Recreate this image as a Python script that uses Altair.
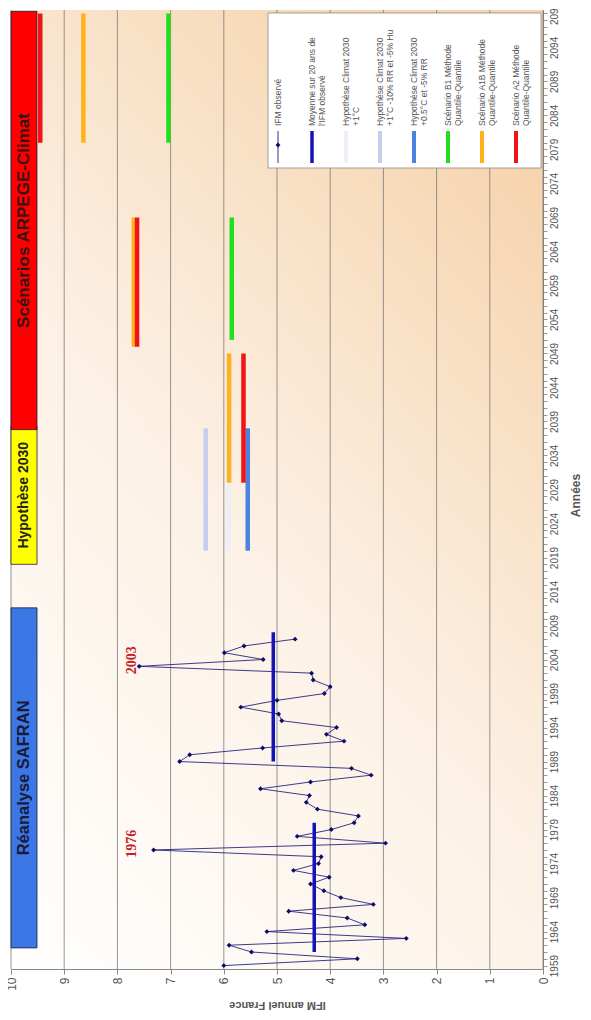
import altair as alt
import pandas as pd

# ---------------- data ----------------
obs_years = list(range(1959, 2008))
obs_ifm = [6.00, 3.49, 5.48, 5.90, 2.57, 5.19, 3.35, 3.68, 4.78, 3.19,
           3.80, 4.12, 4.37, 4.02, 4.69, 4.22, 4.17, 7.32, 2.96, 4.62,
           3.98, 3.55, 3.47, 4.24, 4.45, 4.39, 5.31, 4.37, 3.23, 3.60,
           6.83, 6.64, 5.27, 3.74, 4.07, 3.88, 4.91, 4.97, 5.68, 5.00,
           4.11, 4.00, 4.32, 4.35, 7.59, 5.26, 5.99, 5.62, 4.66]

mean_ifm = [4.30, 5.07]
mean_start = [1961, 1989]
mean_end = [1980, 2008]

S_OBS = "IFM observé"
S_MEAN = "Moyenne sur 20 ans de l'IFM observé"
S_H1 = "Hypothèse Climat 2030 +1°C"
S_H2 = "Hypothèse Climat 2030 +1°C -10% RR et -5% Hu"
S_H3 = "Hypothèse Climat 2030 +0.5°C et -5% RR"
S_B1 = "Scénario B1 Méthode Quantile-Quantile"
S_A1B = "Scénario A1B Méthode Quantile-Quantile"
S_A2 = "Scénario A2 Méthode Quantile-Quantile"

seg_series = [S_H2, S_H1, S_H3, S_A1B, S_A2, S_B1, S_A1B, S_A2, S_B1, S_A1B, S_A2]
seg_ifm = [6.34, 5.92, 5.55, 5.90, 5.63, 5.85, 7.69, 7.63, 7.04, 8.64, 9.45]
seg_start = [2020, 2020, 2020, 2030, 2030, 2051, 2050, 2050, 2080, 2080, 2080]
seg_end = [2038, 2038, 2038, 2049, 2049, 2069, 2069, 2069, 2099, 2099, 2099]

period_labels = ["Réanalyse SAFRAN", "Hypothèse 2030", "Scénarios ARPEGE-Climat"]
period_start = [1961.6, 2018.0, 2037.8]
period_end = [2011.6, 2038.3, 2099.3]

annot_labels = ["1976", "2003"]
annot_years = [1976, 2003]

leg_series = [S_OBS, S_MEAN, S_H1, S_H2, S_H3, S_B1, S_A1B, S_A2]
leg_line1 = ["IFM observé", "Moyenne sur 20 ans de", "Hypothèse Climat 2030",
             "Hypothèse Climat 2030", "Hypothèse Climat 2030",
             "Scénario B1 Méthode", "Scénario A1B  Méthode", "Scénario A2  Méthode"]
leg_line2 = ["", "l'IFM observé", "+1°C", "+1°C -10% RR et -5% Hu",
             "+0.5°C et -5% RR", "Quantile-Quantile", "Quantile-Quantile",
             "Quantile-Quantile"]

x_ticks = list(range(0, 11))
y_ticks = list(range(1959, 2100))

# ---------------- layout / style ----------------
W, H = 532, 959
X_DOM = [0, 10]
Y_DOM = [1958.5, 2099.5]
FONT = "Liberation Sans"


def px_to_ifm(px):
    return X_DOM[1] - px * (X_DOM[1] - X_DOM[0]) / W


def py_to_year(py):
    return Y_DOM[1] - py * (Y_DOM[1] - Y_DOM[0]) / H


xs = alt.Scale(domain=X_DOM, reverse=True, nice=False, zero=False)
ys = alt.Scale(domain=Y_DOM, nice=False, zero=False)

x_axis = alt.Axis(values=x_ticks, grid=False, tickSize=5, tickColor="#888",
                  domainColor="#888", labelAngle=270, labelAlign="right",
                  labelBaseline="middle", labelFontSize=12, labelColor="#555",
                  labelPadding=3, labelFlush=False, labelFont=FONT, format="d",
                  title="IFM annuel France", titleAngle=180, titleBaseline="bottom",
                  titleFontSize=11, titleFontWeight="bold", titleColor="#555",
                  titleFont=FONT, titlePadding=9)
y_axis = alt.Axis(orient="right", values=y_ticks,
                  labelExpr="(datum.value - 1959) % 5 == 0 ? '' + datum.value : ''",
                  grid=False, tickSize=4, tickColor="#999", domainColor="#888",
                  labelAngle=270, labelAlign="center", labelBaseline="top",
                  labelFontSize=10, labelColor="#555", labelPadding=2,
                  labelOverlap=False, labelFlush=False, labelFont=FONT,
                  title="Années", titleAngle=270, titleBaseline="top",
                  titleFontSize=12, titleFontWeight="bold", titleColor="#555",
                  titleFont=FONT, titlePadding=11, titleY=485)


def X(f):
    return alt.X(f, type="quantitative", scale=xs, axis=x_axis)


def Y(f):
    return alt.Y(f, type="quantitative", scale=ys, axis=y_axis)


series_dom = [S_OBS, S_MEAN, S_H1, S_H2, S_H3, S_B1, S_A1B, S_A2]
series_rng = ["#1c1c78", "#1414b4", "#eceef8", "#c6cef0", "#4a84e0",
              "#1ee01e", "#ffb21e", "#f01418"]
stroke_scale = alt.Scale(domain=series_dom, range=series_rng)

one = pd.DataFrame({"k": [0]})

# background gradient
bg = alt.Chart(one).mark_rect(
    fill=alt.Gradient(gradient="linear",
                      stops=[alt.GradientStop(color="#fffefd", offset=0),
                             alt.GradientStop(color="#fcf0e3", offset=0.5),
                             alt.GradientStop(color="#f6d4ae", offset=1)],
                      x1=0.1, y1=1, x2=0.7, y2=0)
).encode(x=alt.value(0), x2=alt.value(W), y=alt.value(0), y2=alt.value(H))

grid = alt.Chart(pd.DataFrame({"g": x_ticks})).mark_rule(
    color="#7a7a7a", strokeWidth=0.8
).encode(x=X("g"), y=alt.value(0), y2=alt.value(H))

# period boxes
per_df = pd.DataFrame({"label": period_labels, "s": period_start, "e": period_end})
boxes = alt.Chart(per_df).mark_rect(stroke="#1e1e3c", strokeWidth=0.8).encode(
    x=alt.value(0), x2=alt.value(26), y=Y("s"), y2="e",
    fill=alt.Fill("label:N", scale=alt.Scale(domain=period_labels,
                                             range=["#3b78e6", "#ffff00", "#ff0000"]),
                  legend=None))
box_text_style = {period_labels[0]: (16.5, "bold", "#1a1a3a"),
                  period_labels[1]: (14, "bold", "#222222"),
                  period_labels[2]: (17, "bold", "#3a1212")}
box_texts = []
for lab in period_labels:
    fs, fw, col = box_text_style[lab]
    box_texts.append(
        alt.Chart(per_df).transform_filter(alt.datum.label == lab)
        .transform_calculate(m="(datum.s + datum.e) / 2")
        .mark_text(angle=270, align="center", baseline="middle", fontSize=fs,
                   fontWeight=fw, color=col, font=FONT)
        .encode(x=alt.value(13), y=Y("m"), text="label:N"))

# scenario segments
seg_df = pd.DataFrame({"series": seg_series, "ifm": seg_ifm, "s": seg_start, "e": seg_end})
segs = alt.Chart(seg_df).mark_rule(strokeWidth=4.5, strokeCap="butt").encode(
    x=X("ifm"), y=Y("s"), y2="e",
    stroke=alt.Stroke("series:N", scale=stroke_scale, legend=None))

# observed
obs_df = pd.DataFrame({"year": obs_years, "ifm": obs_ifm})
obs_line = alt.Chart(obs_df).mark_line(color="#26267e", strokeWidth=0.9).encode(
    x=X("ifm"), y=Y("year"), order="year:Q")
obs_pts = alt.Chart(obs_df).mark_point(shape="diamond", filled=True, size=24,
                                       color="#0b0b6e", opacity=1).encode(
    x=X("ifm"), y=Y("year"))

mean_df = pd.DataFrame({"ifm": mean_ifm, "s": mean_start, "e": mean_end})
means = alt.Chart(mean_df).mark_rule(strokeWidth=3.5, color="#1414b4",
                                     strokeCap="butt").encode(
    x=X("ifm"), y=Y("s"), y2="e")

ann_df = pd.DataFrame({"t": annot_labels, "year": annot_years})
ann = alt.Chart(ann_df).transform_calculate(
    ty="datum.year + 0.9", tx="7.72"
).mark_text(angle=270, align="center", baseline="middle", fontSize=14,
            fontWeight="bold", font="Liberation Serif", color="#c8202a").encode(
    x=X("tx"), y=Y("ty"), text="t:N")

# legend (manual, rotated)
leg_df = pd.DataFrame({"series": leg_series, "l1": leg_line1, "l2": leg_line2,
                       "i": list(range(len(leg_series)))})
leg_df["lx"] = [px_to_ifm(267 + 34 * i) for i in leg_df["i"]]
leg_df["lx2"] = [px_to_ifm(277 + 34 * i) for i in leg_df["i"]]
leg_df["sy1"] = py_to_year(153)
leg_df["sy2"] = py_to_year(121)
leg_df["dy"] = py_to_year(135)
leg_df["ty"] = py_to_year(116)

leg_box = alt.Chart(one).mark_rect(fill="white", stroke="#8a8a8a", strokeWidth=0.8).encode(
    x=alt.value(257), x2=alt.value(530), y=alt.value(3), y2=alt.value(158))
leg_rule0 = alt.Chart(leg_df[leg_df.i == 0]).mark_rule(strokeWidth=0.9).encode(
    x=X("lx"), y=Y("sy1"), y2="sy2",
    stroke=alt.Stroke("series:N", scale=stroke_scale, legend=None))
leg_pt0 = alt.Chart(leg_df[leg_df.i == 0]).mark_point(shape="diamond", filled=True,
                                                      size=24, color="#0b0b6e",
                                                      opacity=1).encode(
    x=X("lx"), y=Y("dy"))
leg_rule1 = alt.Chart(leg_df[leg_df.i == 1]).mark_rule(strokeWidth=3.5).encode(
    x=X("lx"), y=Y("sy1"), y2="sy2",
    stroke=alt.Stroke("series:N", scale=stroke_scale, legend=None))
leg_rules = alt.Chart(leg_df[leg_df.i >= 2]).mark_rule(strokeWidth=4).encode(
    x=X("lx"), y=Y("sy1"), y2="sy2",
    stroke=alt.Stroke("series:N", scale=stroke_scale, legend=None))
leg_t1 = alt.Chart(leg_df).mark_text(angle=270, align="left", baseline="middle",
                                     fontSize=8.5, color="#555", font=FONT).encode(
    x=X("lx"), y=Y("ty"), text="l1:N")
leg_t2 = alt.Chart(leg_df).mark_text(angle=270, align="left", baseline="middle",
                                     fontSize=8.5, color="#555", font=FONT).encode(
    x=X("lx2"), y=Y("ty"), text="l2:N")

chart = alt.layer(
    bg, grid, segs, obs_line, means, obs_pts, ann, boxes, *box_texts,
    leg_box, leg_rule0, leg_pt0, leg_rule1, leg_rules, leg_t1, leg_t2
).properties(
    width=W, height=H,
    autosize=alt.AutoSizeParams(type="none"),
    padding={"left": 3, "top": 2, "right": 40, "bottom": 43},
).configure_view(stroke="#a0a0a0", strokeWidth=1).configure(background="white")

chart.save("out.html", embed_options={"renderer": "svg", "actions": False})
